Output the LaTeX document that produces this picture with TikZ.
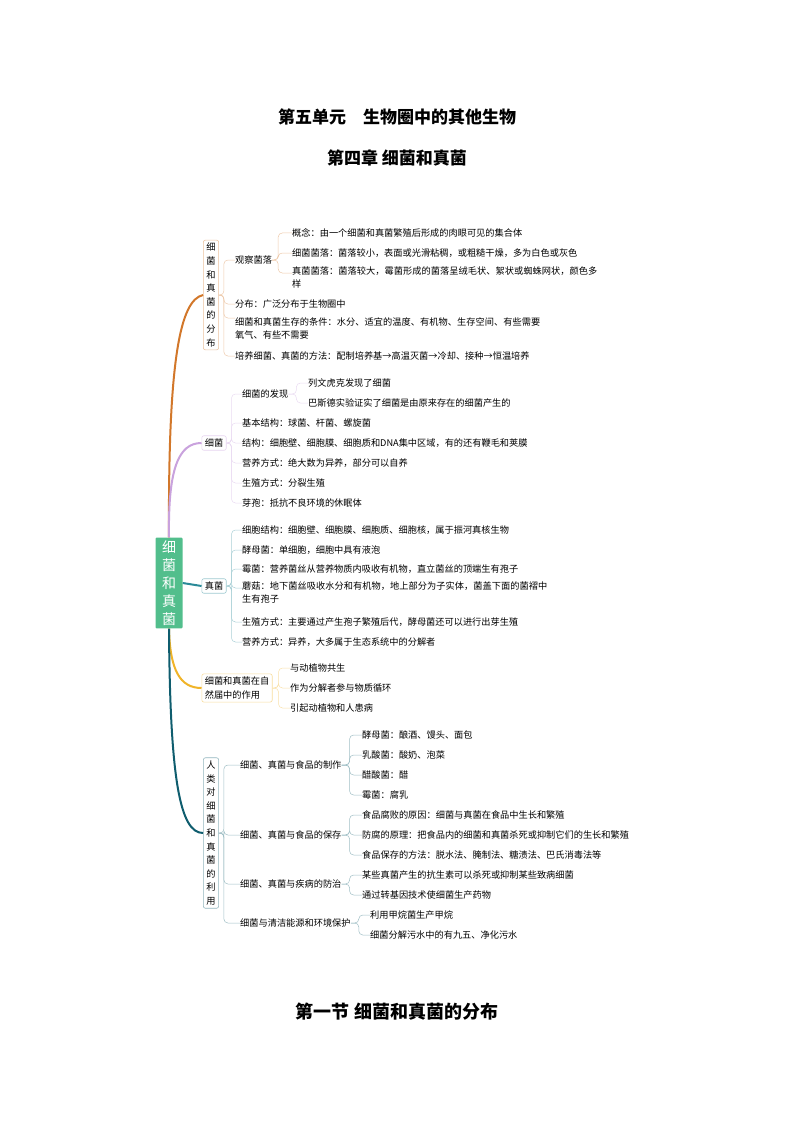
\documentclass[tikz,border=0pt]{standalone}
\usepackage{fontspec}
\setmainfont{Noto Sans CJK SC}
\XeTeXlinebreaklocale "zh"
\XeTeXlinebreakskip=0pt plus 1pt
\usetikzlibrary{positioning}
\definecolor{rootgreen}{HTML}{52BE8C}
\definecolor{orangeb}{HTML}{D2772A}
\definecolor{purpleb}{HTML}{C9A2DD}
\definecolor{tealb}{HTML}{2A8A98}
\definecolor{yellowb}{HTML}{F0B429}
\definecolor{darkb}{HTML}{0F5D6E}
\tikzset{
  leaf/.style={anchor=west,inner sep=0pt,font=\fontsize{9.2}{13}\selectfont,align=left},
  branchbox/.style={draw=#1!45,rounded corners=2pt,fill=white,inner sep=3pt,
    font=\fontsize{9.2}{13.6}\selectfont,align=center,line width=0.6pt},
  brace/.style={draw=#1!40,line width=0.5pt,rounded corners=4pt},
  mainline/.style={draw=#1,line width=2pt},
  title/.style={font=\fontsize{17}{20}\selectfont\bfseries}
}
\begin{document}
\begin{tikzpicture}[x=1pt,y=-1pt]
\useasboundingbox (0,0) rectangle (794,1123);

% Titles
\node[title] (t1) at (397,117) {第五单元\quad 生物圈中的其他生物};
\node[title] (t2) at (397,158) {第四章 细菌和真菌};
\node[title,font=\fontsize{18}{20}\selectfont\bfseries] (t3) at (397,1012) {第一节 细菌和真菌的分布};

% Root
\node[fill=rootgreen,text=white,rounded corners=1pt,inner sep=3pt,minimum width=27pt,
  font=\fontsize{14}{18}\selectfont,align=center] (root) at (169,583)
  {细\\菌\\和\\真\\菌};

% Branch boxes
\node[branchbox=orangeb] (fenbu) at (211,295) {细\\菌\\和\\真\\菌\\的\\分\\布};
\node[branchbox=purpleb] (xijun) at (214,443) {细菌};
\node[branchbox=tealb] (zhenjun) at (214,586) {真菌};
\node[branchbox=yellowb,align=left] (zuoyong) at (237,688) {细菌和真菌在自\\然届中的作用};
\node[branchbox=darkb] (liyong) at (211,833) {人\\类\\对\\细\\菌\\和\\真\\菌\\的\\利\\用};

% Main curves
\draw[mainline=orangeb] (root.north) .. controls (168,360) and (180,300) .. (fenbu.west);
\draw[mainline=purpleb] (root.north) .. controls (168,470) and (178,443) .. (xijun.west);
\draw[mainline=tealb] (root.east) -- (zhenjun.west);
\draw[mainline=yellowb] (root.south) .. controls (170,670) and (180,688) .. (zuoyong.west);
\draw[mainline=darkb] (root.south) .. controls (170,780) and (180,833) .. (liyong.west);

% Branch 1
\node[leaf] (guancha) at (235,260) {观察菌落};
\node[leaf] (gn) at (292,233) {概念：由一个细菌和真菌繁殖后形成的肉眼可见的集合体};
\node[leaf] (xjl) at (292,253) {细菌菌落：菌落较小，表面或光滑粘稠，或粗糙干燥，多为白色或灰色};
\node[leaf,text width=306pt,anchor=north west] (zjl) at (292,267) {真菌菌落：菌落较大，霉菌形成的菌落呈绒毛状、絮状或蜘蛛网状，颜色多样};
\node[leaf] (fb) at (235,304) {分布：广泛分布于生物圈中};
\node[leaf,text width=306pt,anchor=north west] (tj) at (235,318) {细菌和真菌生存的条件：水分、适宜的温度、有机物、生存空间、有些需要氧气、有些不需要};
\node[leaf] (py) at (235,356) {培养细菌、真菌的方法：配制培养基→高温灭菌→冷却、接种→恒温培养};
\foreach \n in {guancha,fb,py}
  \draw[brace=orangeb] (fenbu.east) -- ++(5,0) |- (\n.west);
\draw[brace=orangeb] (fenbu.east) -- ++(5,0) |- (tj.north west);
\foreach \n in {gn,xjl}
  \draw[brace=orangeb] (guancha.east) -- ++(6,0) |- (\n.west);
\draw[brace=orangeb] (guancha.east) -- ++(6,0) |- ([yshift=-6pt]zjl.north west);

% Branch 2
\node[leaf] (faxian) at (242,394) {细菌的发现};
\node[leaf] (lwh) at (308,383) {列文虎克发现了细菌};
\node[leaf] (bsd) at (308,403) {巴斯德实验证实了细菌是由原来存在的细菌产生的};
\node[leaf] (jbjg) at (242,423) {基本结构：球菌、杆菌、螺旋菌};
\node[leaf] (jg) at (242,443) {结构：细胞壁、细胞膜、细胞质和DNA集中区域，有的还有鞭毛和荚膜};
\node[leaf] (yy) at (242,463) {营养方式：绝大数为异养，部分可以自养};
\node[leaf] (sz) at (242,483) {生殖方式：分裂生殖};
\node[leaf] (yb) at (242,503) {芽孢：抵抗不良环境的休眠体};
\foreach \n in {faxian,jbjg,jg,yy,sz,yb}
  \draw[brace=purpleb] (xijun.east) -- ++(5,0) |- (\n.west);
\foreach \n in {lwh,bsd}
  \draw[brace=purpleb] (faxian.east) -- ++(8,0) |- (\n.west);

% Branch 3
\node[leaf] (xbjg) at (242,530) {细胞结构：细胞壁、细胞膜、细胞质、细胞核，属于振河真核生物};
\node[leaf] (jmj) at (242,550) {酵母菌：单细胞，细胞中具有液泡};
\node[leaf] (mj) at (242,569) {霉菌：营养菌丝从营养物质内吸收有机物，直立菌丝的顶端生有孢子};
\node[leaf,text width=306pt,anchor=north west] (mg) at (242,582) {蘑菇：地下菌丝吸收水分和有机物，地上部分为子实体，菌盖下面的菌褶中生有孢子};
\node[leaf] (zsfs) at (242,622) {生殖方式：主要通过产生孢子繁殖后代，酵母菌还可以进行出芽生殖};
\node[leaf] (yyfs) at (242,642) {营养方式：异养，大多属于生态系统中的分解者};
\foreach \n in {xbjg,jmj,mj,zsfs,yyfs}
  \draw[brace=tealb] (zhenjun.east) -- ++(5,0) |- (\n.west);
\draw[brace=tealb] (zhenjun.east) -- ++(5,0) |- ([yshift=-6pt]mg.north west);

% Branch 4
\node[leaf] (gs) at (290,668) {与动植物共生};
\node[leaf] (fjz) at (290,688) {作为分解者参与物质循环};
\node[leaf] (hb) at (290,708) {引起动植物和人患病};
\foreach \n in {gs,fjz,hb}
  \draw[brace=yellowb] (zuoyong.east) -- ++(6,0) |- (\n.west);

% Branch 5
\node[leaf] (zz) at (240,765) {细菌、真菌与食品的制作};
\node[leaf] (bc) at (240,835) {细菌、真菌与食品的保存};
\node[leaf] (fz) at (240,884) {细菌、真菌与疾病的防治};
\node[leaf] (qj) at (240,923) {细菌与清洁能源和环境保护};
\foreach \n in {zz,bc,fz,qj}
  \draw[brace=darkb] (liyong.east) -- ++(5,0) |- (\n.west);
\node[leaf] (jm) at (362,735) {酵母菌：酿酒、馒头、面包};
\node[leaf] (rs) at (362,755) {乳酸菌：酸奶、泡菜};
\node[leaf] (cs) at (362,775) {醋酸菌：醋};
\node[leaf] (mjr) at (362,795) {霉菌：腐乳};
\foreach \n in {jm,rs,cs,mjr}
  \draw[brace=darkb] (zz.east) -- ++(8,0) |- (\n.west);
\node[leaf] (fb1) at (362,815) {食品腐败的原因：细菌与真菌在食品中生长和繁殖};
\node[leaf] (fb2) at (362,835) {防腐的原理：把食品内的细菌和真菌杀死或抑制它们的生长和繁殖};
\node[leaf] (fb3) at (362,855) {食品保存的方法：脱水法、腌制法、糖渍法、巴氏消毒法等};
\foreach \n in {fb1,fb2,fb3}
  \draw[brace=darkb] (bc.east) -- ++(8,0) |- (\n.west);
\node[leaf] (kss) at (362,875) {某些真菌产生的抗生素可以杀死或抑制某些致病细菌};
\node[leaf] (zjy) at (362,895) {通过转基因技术使细菌生产药物};
\foreach \n in {kss,zjy}
  \draw[brace=darkb] (fz.east) -- ++(8,0) |- (\n.west);
\node[leaf] (jw) at (370,915) {利用甲烷菌生产甲烷};
\node[leaf] (ws) at (370,935) {细菌分解污水中的有九五、净化污水};
\foreach \n in {jw,ws}
  \draw[brace=darkb] (qj.east) -- ++(8,0) |- (\n.west);
\end{tikzpicture}
\end{document}
